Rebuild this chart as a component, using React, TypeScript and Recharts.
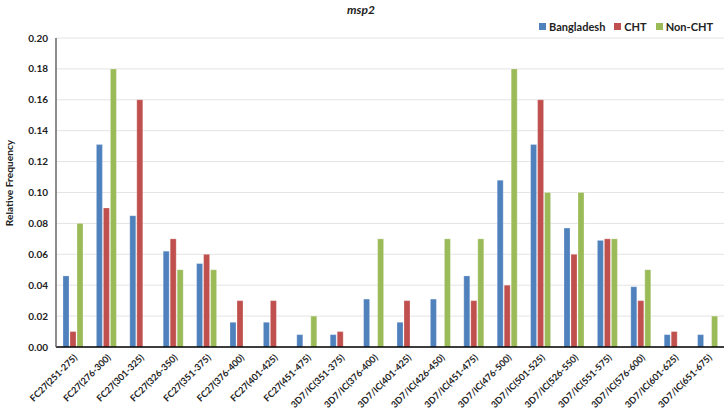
import React from "react";
import { BarChart, Bar, XAxis, YAxis, CartesianGrid } from "recharts";

const categories = [
  "FC27(251-275)", "FC27(276-300)", "FC27(301-325)", "FC27(326-350)", "FC27(351-375)",
  "FC27(376-400)", "FC27(401-425)", "FC27(451-475)", "3D7/IC(351-375)", "3D7/IC(376-400)",
  "3D7/IC(401-425)", "3D7/IC(426-450)", "3D7/IC(451-475)", "3D7/IC(476-500)", "3D7/IC(501-525)",
  "3D7/IC(526-550)", "3D7/IC(551-575)", "3D7/IC(576-600)", "3D7/IC(601-625)", "3D7/IC(651-675)",
];
const bangladesh = [0.046, 0.131, 0.085, 0.062, 0.054, 0.016, 0.016, 0.008, 0.008, 0.031, 0.016, 0.031, 0.046, 0.108, 0.131, 0.077, 0.069, 0.039, 0.008, 0.008];
const cht = [0.01, 0.09, 0.16, 0.07, 0.06, 0.03, 0.03, 0, 0.01, 0, 0.03, 0, 0.03, 0.04, 0.16, 0.06, 0.07, 0.03, 0.01, 0];
const nonCht = [0.08, 0.18, 0, 0.05, 0.05, 0, 0, 0.02, 0, 0.07, 0, 0.07, 0.07, 0.18, 0.1, 0.1, 0.07, 0.05, 0, 0.02];
const yTicks = [0, 0.02, 0.04, 0.06, 0.08, 0.1, 0.12, 0.14, 0.16, 0.18, 0.2];

const seriesNames = ["Bangladesh", "CHT", "Non-CHT"];
const colors = ["#4F81BD", "#C0504D", "#9BBB59"];

const data = categories.map((c, i) => ({
  name: c,
  Bangladesh: bangladesh[i],
  CHT: cht[i],
  "Non-CHT": nonCht[i],
}));

const FONT = "Lato, 'Open Sans', sans-serif";

const XTick = (props: any) => {
  const { x, y, payload } = props;
  return (
    <g transform={`translate(${x + 3},${y + 1})`}>
      <text
        transform="rotate(-45)"
        textAnchor="end"
        fontSize={9.2}
        fontWeight="bold"
        fontFamily={FONT}
        fill="#222"
        dy={3}
      >
        {payload.value}
      </text>
    </g>
  );
};

export default function App() {
  return (
    <div style={{ position: "absolute", left: 0, top: 0, width: 725, height: 409, background: "#fff" }}>
      <div
        style={{
          position: "absolute",
          top: 2,
          left: 0,
          width: 722,
          textAlign: "center",
          fontFamily: FONT,
          fontWeight: "bold",
          fontStyle: "italic",
          fontSize: 12,
          color: "#222",
        }}
      >
        msp2
      </div>
      <div
        style={{
          position: "absolute",
          top: 20,
          right: 12,
          display: "flex",
          fontFamily: FONT,
          fontWeight: "bold",
          fontSize: 11,
          color: "#222",
          zIndex: 2,
        }}
      >
        {seriesNames.map((s, i) => (
          <div key={s} style={{ display: "flex", alignItems: "center", marginLeft: 9 }}>
            <div style={{ width: 7, height: 7, background: colors[i], marginRight: 3 }} />
            <span>{s}</span>
          </div>
        ))}
      </div>
      <svg width={20} height={409} style={{ position: "absolute", left: 0, top: 0, zIndex: 2 }}>
        <text
          transform="translate(13,183) rotate(-90)"
          textAnchor="middle"
          fontSize={10.2}
          fontWeight="bold"
          fontFamily={FONT}
          fill="#222"
        >
          Relative Frequency
        </text>
      </svg>
      <BarChart
        width={725}
        height={409}
        data={data}
        margin={{ top: 38, right: 1, bottom: 0, left: 12 }}
        barSize={6}
        barGap={1}
      >
        <CartesianGrid vertical={false} stroke="#e4e4e4" />
        <XAxis
          dataKey="name"
          interval={0}
          height={62}
          tick={<XTick />}
          tickLine={false}
          axisLine={{ stroke: "#000", strokeWidth: 1.5 }}
        />
        <YAxis
          domain={[0, 0.2]}
          ticks={yTicks}
          tickFormatter={(v: number) => v.toFixed(2)}
          tick={{ fontSize: 10, fontWeight: "bold", fill: "#222", fontFamily: FONT }}
          tickLine={false}
          axisLine={{ stroke: "#666", strokeWidth: 1.5 }}
          width={44}
        />
        {seriesNames.map((s, i) => (
          <Bar key={s} dataKey={s} fill={colors[i]} stroke="#ffffff" strokeOpacity={0.5} strokeWidth={0.5} isAnimationActive={false} />
        ))}
      </BarChart>
    </div>
  );
}
